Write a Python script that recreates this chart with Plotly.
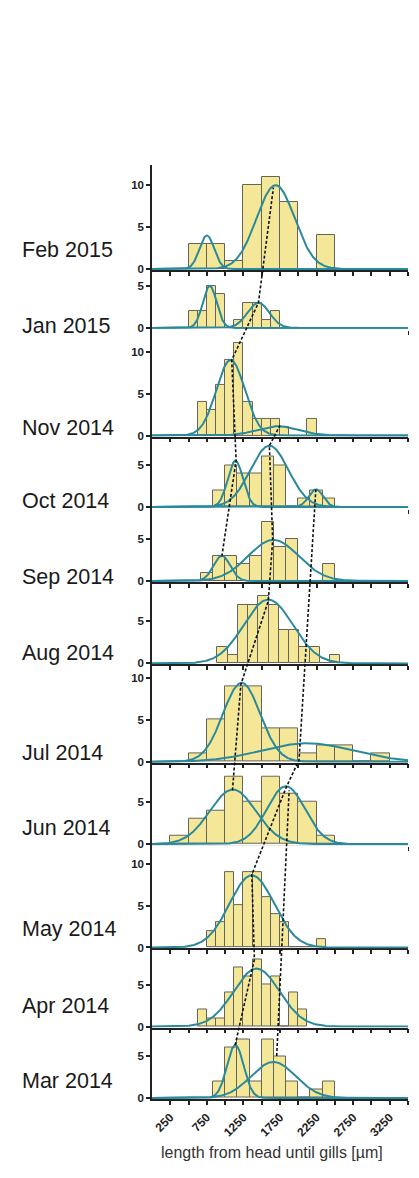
import numpy as np
import plotly.graph_objects as go
from plotly.subplots import make_subplots

# panels, top to bottom
months = ["Feb 2015", "Jan 2015", "Nov 2014", "Oct 2014", "Sep 2014", "Aug 2014",
          "Jul 2014", "Jun 2014", "May 2014", "Apr 2014", "Mar 2014"]

# histogram: left edge of first bin and bin width (µm) for each panel
bin_start = [500, 500, 625, 833.3, 666.7, 895, 500, 250, 750, 625, 833.3]
bin_width = [250, 125, 125, 166.7, 166.7, 140, 250, 250, 125, 125, 166.7]

counts_feb_2015 = [3, 3, 1, 10, 11, 8, 0, 4]
counts_jan_2015 = [2, 2, 5, 4, 0, 1, 3, 3, 1, 2]
counts_nov_2014 = [4, 3, 6, 9, 11, 4, 2, 2, 2, 1, 0, 0, 2]
counts_oct_2014 = [2, 5, 4, 4, 6, 5, 0, 1, 2, 1]
counts_sep_2014 = [1, 3, 3, 2, 3, 7, 4, 5, 0, 0, 2]
counts_aug_2014 = [2, 1, 7, 7, 8, 7, 4, 4, 2, 2, 0, 1]
counts_jul_2014 = [1, 5, 9, 9, 4, 4, 1, 2, 2, 0, 1]
counts_jun_2014 = [1, 3, 4, 8, 5, 8, 6, 5, 1]
counts_may_2014 = [2, 3, 9, 5, 9, 9, 6, 4, 3, 0, 0, 0, 1]
counts_apr_2014 = [2, 1, 1, 4, 7, 6, 8, 5, 6, 0, 4, 2]
counts_mar_2014 = [2, 6, 7, 2, 7, 5, 2, 0, 1, 2]

counts = [counts_feb_2015, counts_jan_2015, counts_nov_2014, counts_oct_2014,
          counts_sep_2014, counts_aug_2014, counts_jul_2014, counts_jun_2014,
          counts_may_2014, counts_apr_2014, counts_mar_2014]

# gaussian fits (one row per component)
fit_month = ["Feb 2015", "Feb 2015", "Jan 2015", "Jan 2015", "Nov 2014", "Nov 2014",
             "Oct 2014", "Oct 2014", "Oct 2014", "Sep 2014", "Sep 2014", "Aug 2014",
             "Jul 2014", "Jul 2014", "Jun 2014", "Jun 2014", "May 2014", "Apr 2014",
             "Mar 2014", "Mar 2014"]
fit_mean = [750, 1690, 790, 1455, 1075, 1720, 1140, 1605, 2240, 955, 1660, 1590,
            1225, 2120, 1105, 1830, 1365, 1430, 1140, 1660]
fit_sd = [100, 260, 95, 150, 195, 280, 105, 260, 97, 115, 345, 335,
          255, 620, 315, 260, 305, 315, 115, 305]
fit_height = [4.0, 10.0, 5.0, 3.0, 9.0, 1.1, 5.5, 7.3, 2.1, 3.0, 4.9, 7.6,
              9.4, 2.2, 6.5, 6.9, 8.6, 6.9, 6.3, 4.3]

# top of each panel's count axis
y_top = [12.4, 6.9, 12.7, 8.4, 8.7, 9.7, 11.6, 9.7, 12.2, 9.3, 8.4]

# dashed cohort tracks: (panel, length, count)
cohort_a = [("Sep 2014", 955, 2.95), ("Oct 2014", 1150, 5.55), ("Nov 2014", 1090, 9.0),
            ("Jan 2015", 1455, 3.0), ("Feb 2015", 1660, 9.7)]
cohort_b = [("Jun 2014", 1100, 6.4), ("Jul 2014", 1215, 9.2), ("Aug 2014", 1590, 7.45),
            ("Sep 2014", 1650, 4.9), ("Oct 2014", 1605, 7.3), ("Nov 2014", 1750, 1.2)]
cohort_c = [("Mar 2014", 1136, 6.3), ("Apr 2014", 1400, 8.0), ("May 2014", 1365, 8.7),
            ("Jun 2014", 1832, 6.7), ("Jul 2014", 2010, 0.2), ("Oct 2014", 2240, 2.1)]
cohort_d = [("Mar 2014", 1705, 5.0), ("Jun 2014", 1875, 6.4)]

x_ticks = list(range(250, 3501, 250))
x_tick_labels = ["250", "750", "1250", "1750", "2250", "2750", "3250"]

X_MAX = 3500
Y_MIN = -0.12
BAR_COLOR = "#F5E798"
BAR_EDGE = "#66645A"
FIT_COLOR = "#2A8A9C"
AXIS_COLOR = "#222222"
FONT = "Liberation Sans, Arial, sans-serif"
label_lift = [20, 3, 9, 7, 5, 11, 10, 17, 19, 22, 18]

n = len(months)
fig = make_subplots(rows=n, cols=1, shared_xaxes=True, vertical_spacing=0,
                    row_heights=[t - Y_MIN for t in y_top])

xs = np.linspace(0, X_MAX, 500)
for i, month in enumerate(months):
    row = i + 1
    c = counts[i]
    centers = [bin_start[i] + bin_width[i] * (k + 0.5) for k in range(len(c))]
    fig.add_trace(go.Bar(x=centers, y=c, width=bin_width[i],
                         marker=dict(color=BAR_COLOR, line=dict(color=BAR_EDGE, width=1)),
                         showlegend=False, hoverinfo="skip"), row=row, col=1)
    for m, mu, sd, h in zip(fit_month, fit_mean, fit_sd, fit_height):
        if m != month:
            continue
        ys = h * np.exp(-0.5 * ((xs - mu) / sd) ** 2)
        fig.add_trace(go.Scatter(x=xs, y=ys, mode="lines",
                                 line=dict(color=FIT_COLOR, width=2),
                                 showlegend=False, hoverinfo="skip"), row=row, col=1)
    fig.update_yaxes(range=[Y_MIN, y_top[i]],
                     tickvals=[v for v in (0, 5, 10) if v <= y_top[i]],
                     row=row, col=1)

fig.update_xaxes(range=[0, X_MAX], tickvals=x_ticks,
                 ticktext=[str(v) if str(v) in x_tick_labels else "" for v in x_ticks],
                 ticks="outside", ticklen=4, tickwidth=1.5, tickcolor=AXIS_COLOR,
                 showline=True, linecolor=AXIS_COLOR, linewidth=1.5,
                 showgrid=False, zeroline=False, layer="below traces")
fig.update_xaxes(showticklabels=True, tickangle=-45, ticklabelstandoff=1,
                 tickfont=dict(family=FONT, size=12, color=AXIS_COLOR, weight="bold"),
                 row=n, col=1)
fig.update_yaxes(ticks="outside", ticklen=4, tickwidth=1.5, tickcolor=AXIS_COLOR,
                 showline=True, linecolor=AXIS_COLOR, linewidth=1.5,
                 showgrid=False, zeroline=False,
                 tickfont=dict(family=FONT, size=11.5, color=AXIS_COLOR, weight="bold"))

# map (panel, length, count) to paper coordinates for the cross-panel lines
def to_paper(month, length, count):
    i = months.index(month)
    name = "yaxis" if i == 0 else f"yaxis{i + 1}"
    d0, d1 = fig.layout[name].domain
    return length / X_MAX, d0 + (count - Y_MIN) / (y_top[i] - Y_MIN) * (d1 - d0)

for track in (cohort_a, cohort_b, cohort_c, cohort_d):
    pts = [to_paper(*p) for p in track]
    path = "M " + " L ".join(f"{x:.5f},{y:.5f}" for x, y in pts)
    fig.add_shape(type="path", path=path, xref="paper", yref="paper",
                  line=dict(color="#111111", width=1.6, dash="3px,2px"))

for i, month in enumerate(months):
    name = "yaxis" if i == 0 else f"yaxis{i + 1}"
    fig.add_annotation(text=month, xref="paper", yref="paper", x=-0.515,
                       y=fig.layout[name].domain[0], xanchor="left", yanchor="middle",
                       yshift=label_lift[i], showarrow=False,
                       font=dict(family=FONT, size=21.5, color="#1a1a1a"))

fig.add_annotation(text="length from head until gills [µm]", xref="paper", yref="paper",
                   x=0.467, y=-0.057, xanchor="center", yanchor="middle", showarrow=False,
                   font=dict(family=FONT, size=16, color="#333333"))

# page body adds 8px, so the figure is a bit smaller than the window
fig.update_layout(width=411, height=1170, margin=dict(l=144, r=11, t=157, b=79),
                  plot_bgcolor="white", paper_bgcolor="white", bargap=0,
                  font=dict(family=FONT))

fig.write_html("out.html")
